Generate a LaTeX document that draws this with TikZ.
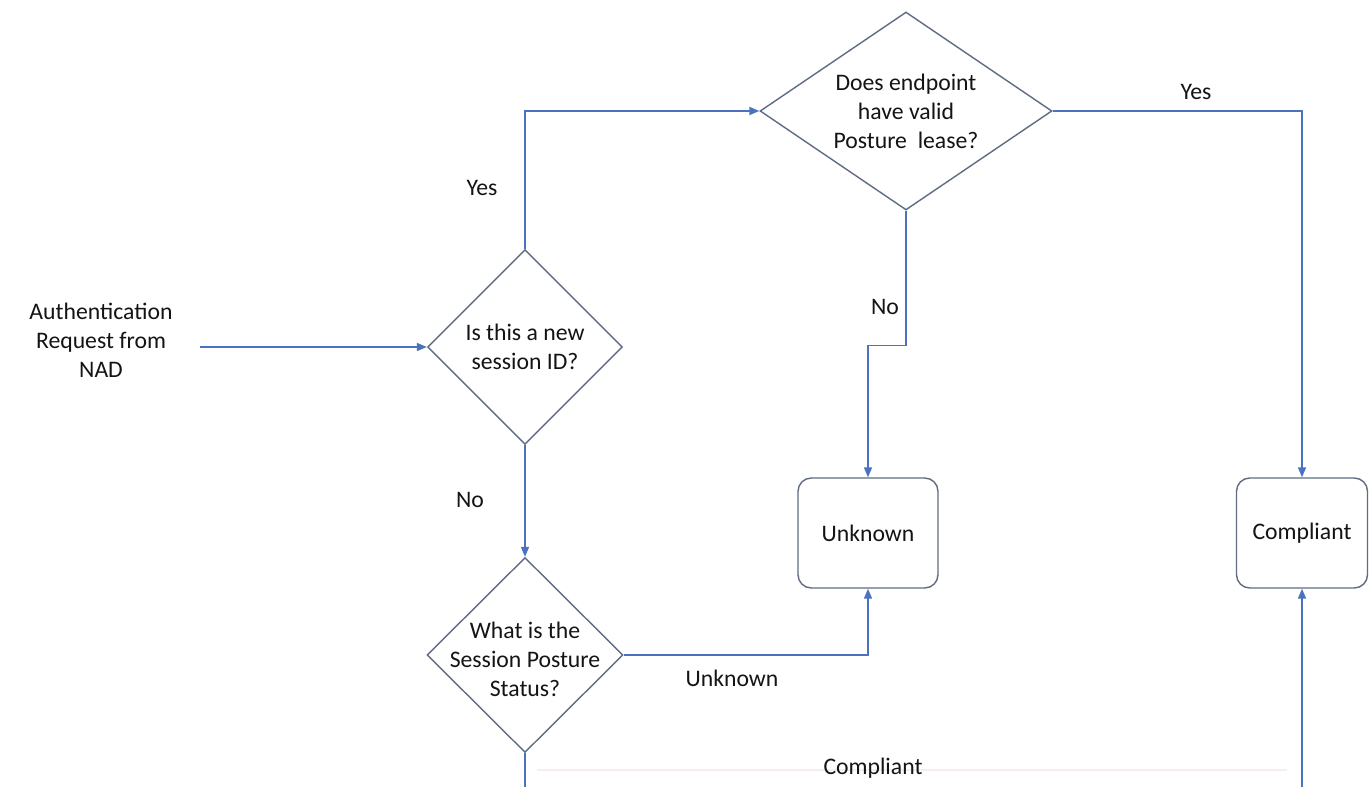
\documentclass[tikz,border=0pt]{standalone}
\usepackage{fontspec}
\setmainfont{Carlito}
\usetikzlibrary{arrows.meta,shapes.geometric}
\definecolor{flowblue}{RGB}{74,114,190}
\definecolor{shapeedge}{RGB}{96,108,130}
\definecolor{faintline}{RGB}{246,238,238}
\tikzset{
    posture flow/.style = {x=0.02cm, y=-0.02cm,
                           >={Triangle[length=2mm, width=1.6mm]},
                           font=\fontsize{13.5}{16.5}\selectfont, text=black!92},
    line/.style         = {draw=flowblue, line width=0.9pt},
    decision/.style     = {diamond, draw=shapeedge, line width=0.8pt,
                           inner sep=0pt},
    outcome/.style      = {draw=shapeedge, line width=0.8pt, rounded corners=7.5pt,
                           minimum width=2.8cm, minimum height=2.2cm},
    txt/.style          = {align=center, inner sep=0pt},
    tag/.style          = {inner sep=0pt}
}

\begin{document}
\begin{tikzpicture}[posture flow]

\clip (0,0) rectangle (1370,787);
\fill[white] (0,0) rectangle (1370,787);

% Decisions: empty diamonds with their question on top
\node[decision, minimum width=3.9cm, minimum height=3.9cm] (newid) at (525,347) {};
\node[txt] (newidq) at (newid) {Is this a new\\session ID?};
\node[decision, minimum width=5.84cm, minimum height=3.96cm] (lease) at (906,111) {};
\node[txt] (leaseq) at (lease) {Does endpoint\\have valid\\Posture\ \ lease?};
\node[decision, minimum width=3.92cm, minimum height=3.9cm] (status) at (525,655) {};
\node[txt] (statusq) at (525,659) {What is the\\Session Posture\\Status?};

% Outcomes
\node[outcome] (unknown) at (868,533) {Unknown};
\node[outcome, minimum width=2.62cm] (compliant) at (1302,533) {Compliant};

% Incoming request
\node[txt] (auth) at (101,340) {Authentication\\Request from\\NAD};
\coordinate (authout) at (200,347);
\draw[->, line] (authout) -- (newid.west);

% Branches
\draw[->, line] (newid.north) |- (lease.west);
\draw[->, line] (lease.east) -| (compliant.north);
\draw[->, line] (lease.south) -- ++(0,135) -| (unknown.north);
\draw[->, line] (newid.south) -- (status.north);
\draw[->, line] (status.east) -| (unknown.south);
\draw[->, line] (status.south) -- ++(0,80) -| (compliant.south);
\draw[faintline, line width=1pt] (537,770) -- (1287,770);

% Branch labels
\node[tag] (yesnew) at (482,188) {Yes};
\node[tag] (nonew) at (470,500) {No};
\node[tag] (yeslease) at (1196,92) {Yes};
\node[tag] (nolease) at (885,307) {No};
\node[tag] (unkstatus) at (732,678) {Unknown};
\node[tag] (compstatus) at (873,768) {Compliant};

\end{tikzpicture}
\end{document}
